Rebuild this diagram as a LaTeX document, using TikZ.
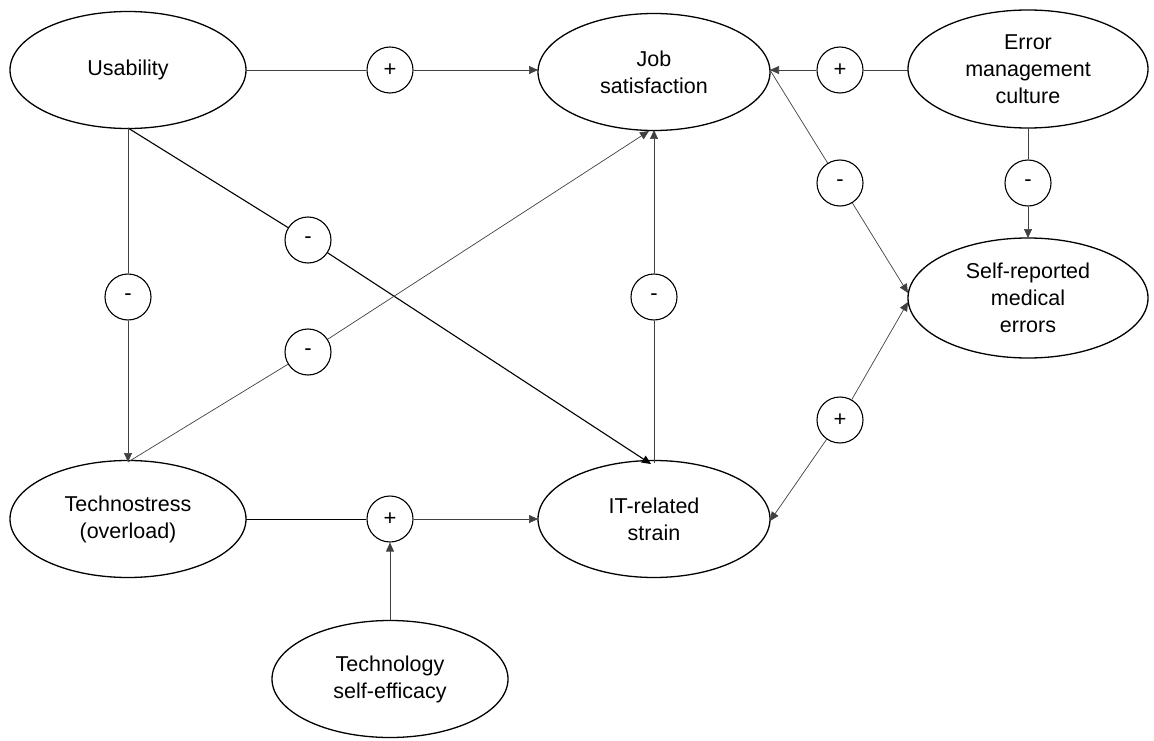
\documentclass[tikz,border=0pt]{standalone}
\usepackage{fontspec}
\setmainfont{Liberation Sans}
\usetikzlibrary{arrows.meta,shapes.geometric}
\begin{document}
\begin{tikzpicture}[x=1pt,y=-1pt,
  var/.style={ellipse,draw,line width=1.3pt,minimum width=236pt,minimum height=117pt,align=center,font=\fontsize{21.5}{27}\selectfont,inner sep=0pt},
  sign/.style={circle,draw,line width=1.1pt,minimum size=46pt,inner sep=0pt,font=\fontsize{22}{24}\selectfont},
  link/.style={line width=0.7pt,draw=black!75},
  tip/.style={-{Triangle[length=9pt,width=8pt]}},
  ]
\useasboundingbox (0,0) rectangle (1154,741);
\node[var] (usab) at (128,70) {Usability};
\node[var,minimum width=232pt] (job) at (654,72) {Job\\satisfaction};
\node[var,minimum width=240pt,minimum height=118pt] (emc) at (1028,69) {Error\\management\\culture};
\node[var,minimum width=240pt,minimum height=120pt] (sme) at (1028,298) {Self-reported\\medical\\errors};
\node[var] (tech) at (128,519) {Technostress\\(overload)};
\node[var,minimum width=232pt] (its) at (654,519) {IT-related\\strain};
\node[var] (tse) at (390,679) {Technology\\self-efficacy};

\node[sign] (s1) at (390,70) {+};
\node[sign] (s2) at (840,70) {+};
\node[sign] (s3) at (840,183) {-};
\node[sign] (s4) at (1028,183) {-};
\node[sign] (s5) at (308,240) {-};
\node[sign] (s6) at (128,297) {-};
\node[sign] (s7) at (308,352) {-};
\node[sign] (s8) at (654,297) {-};
\node[sign] (s9) at (390,519) {+};
\node[sign] (s10) at (840,420) {+};

\coordinate (usabR) at (246,70);
\coordinate (usabB) at (128,128);
\coordinate (jobL) at (538,70);
\coordinate (jobR) at (770,70);
\coordinate (jobB) at (654,130);
\coordinate (jobB2) at (649,131);
\coordinate (emcL) at (908,70);
\coordinate (emcB) at (1028,128);
\coordinate (smeT) at (1028,238);
\coordinate (smeL1) at (908,293);
\coordinate (smeL2) at (908,302);
\coordinate (techT) at (128,462);
\coordinate (techR) at (246,519);
\coordinate (itsL) at (538,519);
\coordinate (itsT) at (654,463);
\coordinate (itsT2) at (651,464);
\coordinate (itsR) at (770,521);
\coordinate (tseT) at (390,620);

\draw[link] (usabR) -- (s1);
\draw[link,tip] (s1) -- (jobL);
\draw[link] (emcL) -- (s2);
\draw[link,tip] (s2) -- (jobR);
\draw[link] (jobR) -- (s3);
\draw[link,tip] (s3) -- (smeL1);
\draw[link] (emcB) -- (s4);
\draw[link,tip] (s4) -- (smeT);
\draw[link,line width=1.1pt,draw=black] (usabB) -- (s5);
\draw[link,tip,line width=1.1pt,draw=black] (s5) -- (itsT2);
\draw[link] (usabB) -- (s6);
\draw[link,tip] (s6) -- (techT);
\draw[link] (techT) -- (s7);
\draw[link,tip] (s7) -- (jobB2);
\draw[link] (itsT) -- (s8);
\draw[link,tip] (s8) -- (jobB);
\draw[link,line width=1pt,draw=black] (techR) -- (s9);
\draw[link,tip] (s9) -- (itsL);
\draw[link,tip] (tseT) -- (s9);
\draw[link,tip] (s10) -- (smeL2);
\draw[link,tip] (s10) -- (itsR);
\end{tikzpicture}
\end{document}
